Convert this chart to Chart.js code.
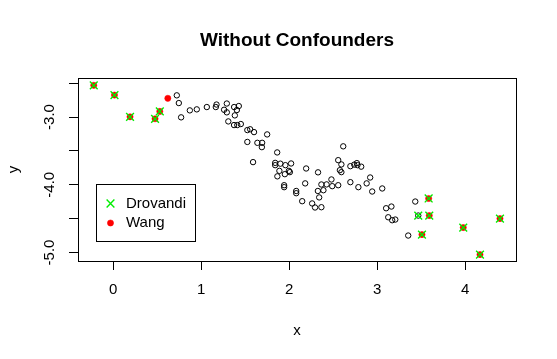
<!DOCTYPE html>
<html>
<head>
<meta charset="utf-8">
<script src="https://cdn.jsdelivr.net/npm/chart.js@4/dist/chart.umd.min.js"></script>
<style>
  html, body { margin: 0; padding: 0; background: #fff; }
  canvas { display: block; }
</style>
</head>
<body>
<canvas id="chart" width="557" height="359"></canvas>
<script>
// axis ticks (R style: every tick drawn, only some labelled)
const xTicks = [0, 1, 2, 3, 4];
const yTicks = [-5.0, -4.5, -4.0, -3.5, -3.0, -2.5];
const yTickLabels = ['-5.0', '', '-4.0', '', '-3.0', ''];

// all observations (open circles)
const obsX = [0.724, 0.747, 0.773, 0.872, 0.951, 1.065, 1.175, 1.167, 1.292, 1.261,
  1.292, 1.375, 1.428, 1.406, 1.383, 1.309, 1.374, 1.411, 1.451, 1.525,
  1.557, 1.601, 1.750, 1.525, 1.639, 1.693, 1.690, 1.590, 1.864, 1.841,
  1.841, 1.900, 1.957, 2.022, 1.889, 1.997, 2.008, 1.951, 1.866, 2.193,
  2.328, 1.943, 1.943, 2.080, 2.080, 2.182, 2.366, 2.389, 2.425, 2.480,
  2.489, 2.557, 2.326, 2.341, 2.148, 2.261, 2.294, 2.366, 2.614, 2.557,
  2.593, 2.576, 2.593, 2.695, 2.739, 2.769, 2.775, 2.818, 2.695, 2.786,
  2.880, 2.920, 2.943, 3.057, 3.432, 3.101, 3.161, 3.125, 3.170, 3.205,
  3.352, 3.466];
const obsY = [-2.680, -2.794, -3.005, -2.902, -2.887, -2.853, -2.816, -2.853, -2.801, -2.893,
  -2.931, -2.853, -2.838, -2.897, -2.976, -3.065, -3.119, -3.119, -3.104, -3.193,
  -3.181, -3.223, -3.257, -3.368, -3.381, -3.381, -3.445, -3.666, -3.523, -3.677,
  -3.711, -3.689, -3.711, -3.686, -3.795, -3.795, -3.814, -3.844, -3.876, -3.760,
  -3.817, -4.007, -4.036, -4.092, -4.125, -3.980, -3.996, -4.081, -3.995, -3.922,
  -4.021, -4.007, -4.092, -4.187, -4.243, -4.276, -4.336, -4.332, -3.433, -3.637,
  -3.700, -3.785, -3.814, -3.726, -3.703, -3.681, -3.711, -3.733, -3.962, -4.036,
  -3.980, -3.893, -4.100, -4.055, -4.248, -4.347, -4.322, -4.480, -4.524, -4.514,
  -4.750, -4.455];

// points flagged by Wang
const wangX = [-0.219, 0.016, 0.193, 0.477, 0.531, 0.622, 3.584, 3.591, 3.508, 3.977, 4.394, 4.167];
const wangY = [-2.532, -2.676, -2.997, -3.026, -2.917, -2.724, -4.203, -4.455, -4.736, -4.632, -4.499, -5.031];

// points flagged by Drovandi
const drovandiX = [-0.219, 0.016, 0.193, 0.477, 0.531, 3.584, 3.591, 3.466, 3.508, 3.977, 4.394, 4.167];
const drovandiY = [-2.532, -2.676, -2.997, -3.026, -2.917, -4.203, -4.455, -4.455, -4.736, -4.632, -4.499, -5.031];

const legendLabels = ['Drovandi', 'Wang'];

const FONT = 'Liberation Sans, Arial, sans-serif';

function toPoints(xs, ys) {
  return xs.map((x, i) => ({ x: x, y: ys[i] }));
}

// box round the plot region plus the legend box, as base R draws them
const rBoxPlugin = {
  id: 'rBox',
  afterDraw(chart) {
    const ctx = chart.ctx;
    const a = chart.chartArea;
    ctx.save();
    ctx.strokeStyle = '#000';
    ctx.lineWidth = 1;
    ctx.strokeRect(Math.round(a.left) + 0.5, Math.round(a.top) + 0.5,
      Math.round(a.right - a.left), Math.round(a.bottom - a.top));

    // legend
    const lx = a.left + 18, ly = a.top + 106;
    ctx.fillStyle = '#fff';
    ctx.fillRect(Math.round(lx) + 0.5, Math.round(ly) + 0.5, 99, 57);
    ctx.strokeRect(Math.round(lx) + 0.5, Math.round(ly) + 0.5, 99, 57);

    const entries = [chart.data.datasets[2], chart.data.datasets[1]];
    entries.forEach((ds, i) => {
      const cy = ly + 19.5 + i * 19.5;
      ctx.save();
      ctx.strokeStyle = ds.borderColor;
      ctx.fillStyle = ds.backgroundColor;
      ctx.lineWidth = ds.borderWidth;
      Chart.helpers.drawPoint(ctx, {
        pointStyle: ds.pointStyle, radius: ds.pointRadius, borderWidth: ds.borderWidth, rotation: 0
      }, lx + 14.5, cy);
      ctx.restore();
      ctx.fillStyle = '#000';
      ctx.font = '15px ' + FONT;
      ctx.textBaseline = 'middle';
      ctx.textAlign = 'left';
      ctx.fillText(legendLabels[i], lx + 30, cy);
    });
    ctx.restore();
  }
};

new Chart(document.getElementById('chart'), {
  type: 'scatter',
  data: {
    datasets: [
      {
        label: 'observed',
        data: toPoints(obsX, obsY),
        pointStyle: 'circle',
        pointRadius: 2.7,
        borderColor: '#000',
        backgroundColor: 'rgba(0,0,0,0)',
        borderWidth: 1,
        order: 3
      },
      {
        label: 'Wang',
        data: toPoints(wangX, wangY),
        pointStyle: 'circle',
        pointRadius: 3.1,
        borderColor: '#ff0000',
        backgroundColor: '#ff0000',
        borderWidth: 0.5,
        order: 2
      },
      {
        label: 'Drovandi',
        data: toPoints(drovandiX, drovandiY),
        pointStyle: 'crossRot',
        pointRadius: 5.5,
        borderColor: '#00ee00',
        backgroundColor: '#00ee00',
        borderWidth: 1.4,
        order: 1
      }
    ]
  },
  options: {
    responsive: false,
    animation: false,
    devicePixelRatio: 1,
    layout: { padding: { left: 0, right: 41, top: 0, bottom: 0 } },
    scales: {
      x: {
        type: 'linear',
        min: -0.398,
        max: 4.576,
        afterBuildTicks: s => { s.ticks = xTicks.map(v => ({ value: v })); },
        afterFit: s => { s.height = 98; },
        grid: { drawOnChartArea: false, drawTicks: true, tickLength: 9, color: '#000', lineWidth: 1 },
        border: { display: true, color: '#000', width: 1 },
        ticks: { padding: 11, maxRotation: 0, color: '#000', font: { family: FONT, size: 15 },
          callback: v => String(v) },
        title: { display: true, text: 'x', color: '#000', font: { family: FONT, size: 15 },
          padding: { top: 0, bottom: 19 } }
      },
      y: {
        type: 'linear',
        min: -5.126,
        max: -2.424,
        afterBuildTicks: s => { s.ticks = yTicks.map(v => ({ value: v })); },
        afterFit: s => { s.width = 78; },
        grid: { drawOnChartArea: false, drawTicks: true, tickLength: 9, color: '#000', lineWidth: 1 },
        border: { display: true, color: '#000', width: 1 },
        ticks: { minRotation: 90, maxRotation: 90, crossAlign: 'center', padding: 6, color: '#000',
          font: { family: FONT, size: 15 },
          callback: v => yTickLabels[yTicks.indexOf(v)] },
        title: { display: true, text: 'y', color: '#000', font: { family: FONT, size: 15 },
          padding: { top: 5, bottom: 0 } }
      }
    },
    plugins: {
      legend: { display: false },
      tooltip: { enabled: false },
      title: {
        display: true,
        text: 'Without Confounders',
        fullSize: false,
        color: '#000',
        font: { family: FONT, size: 19, weight: 'bold' },
        padding: { top: 29.5, bottom: 25.7 }
      }
    }
  },
  plugins: [rBoxPlugin]
});
</script>
</body>
</html>
